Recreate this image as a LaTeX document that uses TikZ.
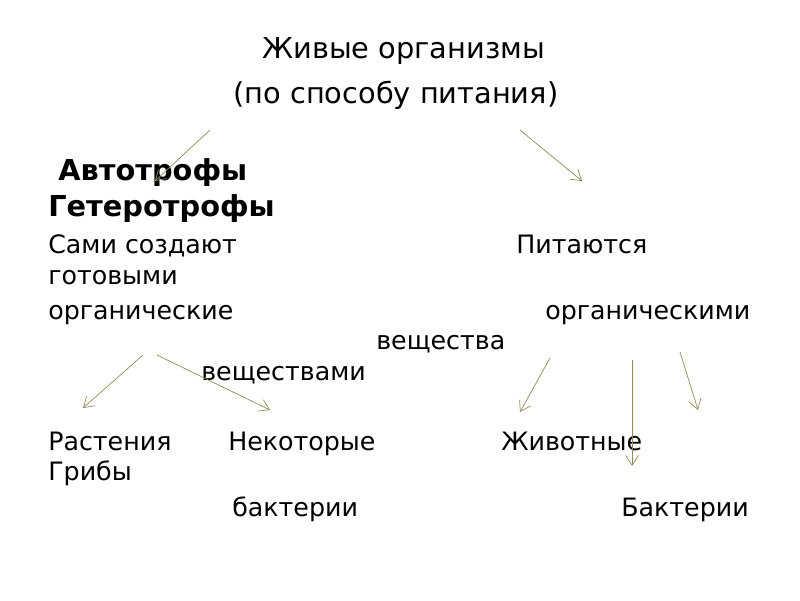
\documentclass[tikz,border=0pt]{standalone}
\usepackage{fontspec}
\setmainfont{DejaVu Sans}
\usetikzlibrary{arrows.meta}
\tikzset{txt/.style={anchor=base west,inner sep=0pt,font=\fontsize{18}{22}\selectfont},
  title txt/.style={txt,font=\fontsize{20.5}{24}\selectfont},
  bold txt/.style={txt,font=\fontsize{20.5}{24}\selectfont\bfseries},
  arr/.style={draw=olive!40!gray,line width=0.5pt,-{Straight Barb[length=7pt,width=9pt]}},
}
\begin{document}
\begin{tikzpicture}[x=0.025cm,y=-0.025cm]
				\useasboundingbox (0,0) rectangle (800,600);
				\node[title txt] (T1) at (262,58) {Живые организмы};
				\node[title txt] (T2) at (233,103) {(по способу питания)};
				\node[bold txt] (A) at (58,180) {Автотрофы};
				\node[bold txt] (H) at (48,216) {Гетеротрофы};
				\node[txt] (S1) at (48,253) {Сами создают};
				\node[txt] (P1) at (516,253) {Питаются};
				\node[txt] (S2) at (48,284) {готовыми};
				\node[txt] (S3) at (48,319) {органические};
				\node[txt] (P2) at (545,319) {органическими};
				\node[txt] (S4) at (376,349) {вещества};
				\node[txt] (P3) at (201,380) {веществами};
				\node[txt] (R) at (48,450) {Растения};
				\node[txt] (N1) at (228,450) {Некоторые};
				\node[txt] (Z) at (501,450) {Животные};
				\node[txt] (G) at (48,480) {Грибы};
				\node[txt] (N2) at (232,516) {бактерии};
				\node[txt] (B) at (621,516) {Бактерии};
				
				\coordinate (a1) at (210,130); \coordinate (a2) at (155,181);
				\coordinate (b1) at (520,130); \coordinate (b2) at (582,181);
				\coordinate (c1) at (143,355); \coordinate (c2) at (83,408);
				\coordinate (d1) at (157,355); \coordinate (d2) at (270,410);
				\coordinate (e1) at (550,358); \coordinate (e2) at (520,412);
				\coordinate (f1) at (632,360); \coordinate (f2) at (632,466);
				\coordinate (g1) at (680,352); \coordinate (g2) at (698,410);
				
				\draw[arr] (a1) -- (a2);
				\draw[arr] (b1) -- (b2);
				\draw[arr] (c1) -- (c2);
				\draw[arr] (d1) -- (d2);
				\draw[arr] (e1) -- (e2);
				\draw[arr] (f1) -- (f2);
				\draw[arr] (g1) -- (g2);
\end{tikzpicture}
\end{document}
